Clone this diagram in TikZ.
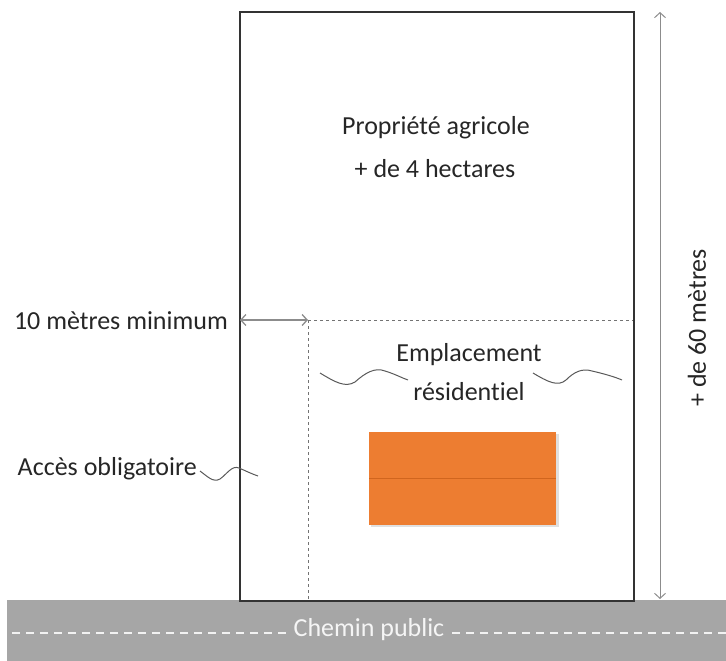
\documentclass[tikz,border=0pt]{standalone}
\usepackage{fontspec}
\setmainfont{Carlito}[Ligatures={NoCommon}]
\usetikzlibrary{arrows.meta}
\definecolor{txt}{HTML}{262626}
\definecolor{roadgray}{HTML}{A6A6A6}
\definecolor{orng}{HTML}{ED7D31}
\definecolor{orngline}{HTML}{D0651E}
\definecolor{arrgray}{HTML}{8C8C8C}
\tikzset{
  lbl/.style={font=\fontsize{26}{30}\selectfont, text=txt, inner sep=0pt},
  border/.style={draw=black!80, line width=1.6pt},
  dotline/.style={draw=black!55, line width=0.9pt, dash pattern=on 3pt off 3pt},
  dimarrow/.style={draw=arrgray, line width=1.3pt, {Straight Barb[length=5pt,width=11pt]}-{Straight Barb[length=5pt,width=11pt]}},
  squig/.style={draw=black!65, line width=1pt},
  roaddash/.style={draw=white!90!gray, line width=2.2pt, dash pattern=on 8pt off 6pt},
}
\begin{document}
\begin{tikzpicture}[x=1pt,y=-1pt]
\useasboundingbox (0,0) rectangle (726,661);
% road
\fill[roadgray] (7,600) rectangle (726,661);
\node[lbl, text=white!92!gray, outer sep=8pt] (road) at (369,630) {Chemin public};
\coordinate (rl) at (12,633);
\coordinate (rr) at (726,633);
\draw[roaddash] (rl) -- (road.west |- rl);
\draw[roaddash] (road.east |- rr) -- (rr);
% property
\node[border, minimum width=394pt, minimum height=589pt, inner sep=0pt, anchor=north west] (prop) at (239,11) {};
\node[lbl] (p1) at (436,128) {Propriété agricole};
\node[lbl] (p2) at (435,169) {+ de 4 hectares};
% dotted zone
\coordinate (c) at (308,320);
\coordinate (ce) at (633,320);
\coordinate (cs) at (308,600);
\draw[dotline] (c) -- (ce);
\draw[dotline] (c) -- (cs);
% 10 m arrow
\coordinate (aw) at (240,320);
\draw[dimarrow] (aw) -- (c);
\node[lbl, anchor=east] (m10) at (228,321) {10 mètres minimum};
% vertical dimension
\coordinate (vt) at (660,12);
\coordinate (vb) at (660,599);
\draw[dimarrow, line width=1pt] (vt) -- (vb);
\node[lbl, rotate=90] (h60) at (697,328) {+ de 60 mètres};
% emplacement
\node[lbl] (e1) at (469,355) {Emplacement};
\node[lbl] (e2) at (469,392) {résidentiel};
\draw[squig] (320,373) .. controls (335,382) and (345,388) .. (355,382)
  .. controls (365,373) and (375,367) .. (385,371) .. controls (395,374) and (402,378) .. (408,380);
\draw[squig] (533,373) .. controls (548,382) and (558,387) .. (566,380)
  .. controls (574,372) and (582,368) .. (592,371) .. controls (605,374) and (615,377) .. (622,380);
% access
\node[lbl, anchor=east] (acc) at (197,469) {Accès obligatoire};
\draw[squig] (200,471) .. controls (207,476) and (213,483) .. (220,479)
  .. controls (227,474) and (232,465) .. (239,468) .. controls (246,471) and (252,474) .. (258,476);
% house
\fill[black, opacity=0.12] (371,434) rectangle (559,527);
\node[fill=orng, minimum width=187pt, minimum height=93pt, inner sep=0pt, anchor=north west] (house) at (369,432) {};
\draw[orngline, line width=1pt] (house.west) -- (house.east);
\end{tikzpicture}
\end{document}
